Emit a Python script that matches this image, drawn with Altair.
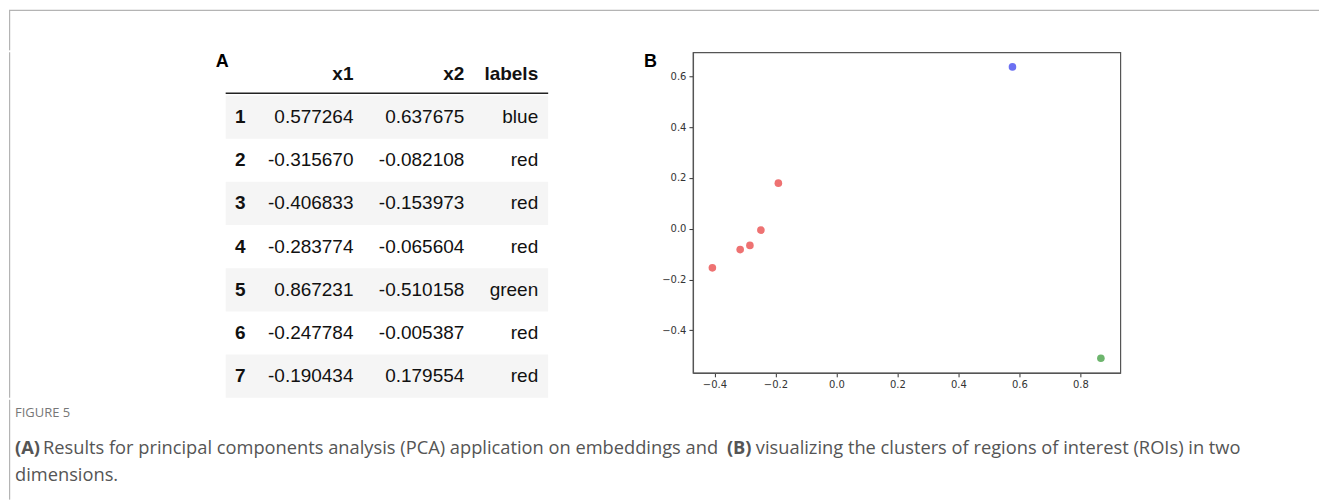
import altair as alt
import pandas as pd

# ---------------- data ----------------
row_idx = [1, 2, 3, 4, 5, 6, 7]
x1_vals = [0.577264, -0.315670, -0.406833, -0.283774, 0.867231, -0.247784, -0.190434]
x2_vals = [0.637675, -0.082108, -0.153973, -0.065604, -0.510158, -0.005387, 0.179554]
labels = ["blue", "red", "red", "red", "green", "red", "red"]
header_cols = ["x1", "x2", "labels"]
x_ticks = [-0.4, -0.2, 0.0, 0.2, 0.4, 0.6, 0.8]
y_ticks = [-0.4, -0.2, 0.0, 0.2, 0.4, 0.6]
label_names = ["blue", "red", "green"]
label_colors = ["#6b70f2", "#ee7272", "#6db56d"]
fig_label = "FIGURE 5"
cap_a = "(A)"
cap_a_text = "Results for principal components analysis (PCA) application on embeddings and"
cap_b = "(B)"
cap_b_text = "visualizing the clusters of regions of interest (ROIs) in two"
cap_line2 = "dimensions."

FULL_W = 1312
BORDER = "#b4b4b4"
TABLE_FONT = "Liberation Sans"
CAP_FONT = "Open Sans"
NOBOX = alt.ViewBackground(stroke=None)

# ---------------- top strip (border) ----------------
top_df = pd.DataFrame({"k": [0]})
top_h = 42
top = alt.layer(
    alt.Chart(top_df).mark_rule(color=BORDER, strokeWidth=1.2).encode(
        x=alt.value(0), x2=alt.value(FULL_W), y=alt.value(2)),
    alt.Chart(top_df).mark_rule(color=BORDER, strokeWidth=1.2).encode(
        x=alt.value(0.6), y=alt.value(2), y2=alt.value(top_h)),
).properties(width=FULL_W, height=top_h, view=NOBOX)

# ---------------- table (A) ----------------
tab_w, tab_h = 540, 346
yscale = alt.Scale(domain=[-0.5, 7.5], reverse=True, nice=False, zero=False)

rows_df = pd.DataFrame({
    "row": row_idx,
    "idx": [str(i) for i in row_idx],
    "x1": [f"{v:.6f}" for v in x1_vals],
    "x2": [f"{v:.6f}" for v in x2_vals],
    "labels": labels,
})
rows_df["lo"] = rows_df["row"] - 0.5
rows_df["hi"] = rows_df["row"] + 0.5
band_df = rows_df[rows_df["row"] % 2 == 1]
head_df = pd.DataFrame({"row": [0, 0, 0], "col": header_cols})

tab_left, tab_right = 217, 540
col_x = {"idx": 237, "x1": 345, "x2": 456, "labels": 530}

bands = alt.Chart(band_df).mark_rect(color="#f5f5f5").encode(
    x=alt.value(tab_left), x2=alt.value(tab_right),
    y=alt.Y("lo:Q", scale=yscale, axis=None), y2="hi:Q")

underline = alt.Chart(pd.DataFrame({"row": [0.45]})).mark_rule(
    color="#222", strokeWidth=1.5).encode(
    x=alt.value(tab_left), x2=alt.value(tab_right),
    y=alt.Y("row:Q", scale=yscale, axis=None))

layers = [bands, underline]
for c in header_cols:
    layers.append(
        alt.Chart(head_df[head_df["col"] == c]).mark_text(
            align="right", baseline="middle", font=TABLE_FONT, fontSize=19,
            fontWeight="bold", color="#111").encode(
            x=alt.value(col_x[c]), y=alt.Y("row:Q", scale=yscale, axis=None),
            text="col:N"))
for c in ["idx", "x1", "x2", "labels"]:
    layers.append(
        alt.Chart(rows_df).mark_text(
            align="right", baseline="middle", font=TABLE_FONT, fontSize=19,
            fontWeight="bold" if c == "idx" else "normal", color="#111").encode(
            x=alt.value(col_x[c]), y=alt.Y("row:Q", scale=yscale, axis=None),
            text=f"{c}:N"))
layers.append(
    alt.Chart(pd.DataFrame({"t": ["A"]})).mark_text(
        align="left", baseline="alphabetic", font=TABLE_FONT, fontSize=18,
        fontWeight="bold", color="#000").encode(
        x=alt.value(207), y=alt.value(15), text="t:N"))
layers.append(
    alt.Chart(pd.DataFrame({"k": [0]})).mark_rule(color=BORDER, strokeWidth=1.2).encode(
        x=alt.value(0.6), y=alt.value(0), y2=alt.value(tab_h)))
table = alt.layer(*layers).properties(width=tab_w, height=tab_h, view=NOBOX)

# ---------------- scatter (B) ----------------
pts = pd.DataFrame({"x1": x1_vals, "x2": x2_vals, "labels": labels})
xr = max(x1_vals) - min(x1_vals)
yr = max(x2_vals) - min(x2_vals)
xdom = [min(x1_vals) - 0.05 * xr, max(x1_vals) + 0.05 * xr]
ydom = [min(x2_vals) - 0.05 * yr, max(x2_vals) + 0.05 * yr]

axis_common = dict(format=".1f", labelFont="DejaVu Sans", labelFontSize=10,
                   labelColor="#333", tickColor="#333", tickSize=4, tickWidth=1,
                   domainColor="#555", domainWidth=1.2, grid=False, title=None,
                   labelPadding=3)

sc_w, sc_h = 428, 321
pts_layer = alt.Chart(pts).mark_circle(size=58, opacity=1).encode(
    x=alt.X("x1:Q", scale=alt.Scale(domain=xdom, nice=False, zero=False),
            axis=alt.Axis(values=x_ticks, **axis_common)),
    y=alt.Y("x2:Q", scale=alt.Scale(domain=ydom, nice=False, zero=False),
            axis=alt.Axis(values=y_ticks, **axis_common)),
    color=alt.Color("labels:N", scale=alt.Scale(domain=label_names, range=label_colors),
                    legend=None),
)
b_label = alt.Chart(pd.DataFrame({"t": ["B"]})).mark_text(
    align="left", baseline="alphabetic", font=TABLE_FONT, fontSize=18,
    fontWeight="bold", color="#000").encode(
    x=alt.value(-49), y=alt.value(15), text="t:N")
scatter = alt.layer(pts_layer, b_label).properties(
    width=sc_w, height=sc_h,
    view=alt.ViewBackground(stroke="#555", strokeWidth=1.2))

mid = alt.hconcat(table, scatter, spacing=145, bounds="flush")

# ---------------- caption ----------------
cap_h = 100
cap_df = pd.DataFrame({"k": [0]})
CAP_SIZE = 18.3


def cap_text(txt, x, y, size=CAP_SIZE, weight="normal", color="#555"):
    return alt.Chart(pd.DataFrame({"t": [txt]})).mark_text(
        align="left", baseline="middle", font=CAP_FONT, fontSize=size,
        fontWeight=weight, color=color).encode(
        x=alt.value(x), y=alt.value(y), text="t:N")


caption = alt.layer(
    alt.Chart(cap_df).mark_rule(color=BORDER, strokeWidth=1.2).encode(
        x=alt.value(0.6), y=alt.value(0), y2=alt.value(cap_h)),
    cap_text(fig_label, 6, 13, size=13, color="#777"),
    cap_text(cap_a, 6, 49, weight="bold"),
    cap_text(cap_a_text, 34, 49),
    cap_text(cap_b, 719, 49, weight="bold"),
    cap_text(cap_b_text, 748, 49),
    cap_text(cap_line2, 6, 76),
).properties(width=FULL_W, height=cap_h, view=NOBOX)

chart = alt.vconcat(top, mid, caption, spacing=0).properties(
    padding=0
).configure_view(stroke=None)

chart.save("out.html", embed_options={"renderer": "svg", "actions": False})
